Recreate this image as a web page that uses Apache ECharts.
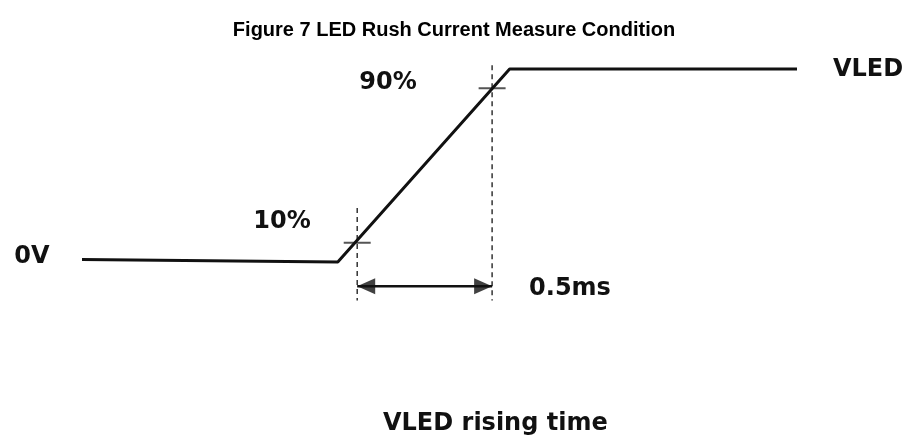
<!DOCTYPE html>
<html><head><meta charset="utf-8">
<script src="https://cdn.jsdelivr.net/npm/echarts@6/dist/echarts.min.js"></script>
<style>html,body{margin:0;padding:0;background:#fff}#c{width:909px;height:442px}</style>
</head><body><div id="c"></div>
<script>
// time in ms (t=0 at 10% point), level as fraction of VLED
const waveTime  = [-1.02, -0.072, 0.565, 1.63];
const waveLevel = [0.013, 0, 1, 1];
const markTimes = [0, 0.5];          // 10% and 90% crossing times
const markLevels = [0.1, 0.9];
const dashTop = [0.28, 1.02];
const dashBottom = -0.2;
const arrowLevel = -0.125;
const tickHalf = 0.05;
const labels = { title: 'Figure 7 LED Rush Current Measure Condition', p90: '90%', p10: '10%', zero: '0V', vled: 'VLED', dt: '0.5ms', caption: 'VLED rising time' };

const chart = echarts.init(document.getElementById('c'));
const series = [];
series.push({ type: 'line', data: waveTime.map((t, i) => [t, waveLevel[i]]), symbol: 'none',
  lineStyle: { color: '#111', width: 3 }, z: 5, animation: false });
markTimes.forEach((t, i) => {
  series.push({ type: 'line', data: [[t, dashTop[i]], [t, dashBottom]], symbol: 'none',
    lineStyle: { color: '#333', width: 1.5, type: [5, 4] }, z: 2, animation: false });
  series.push({ type: 'line', data: [[t - tickHalf, markLevels[i]], [t + tickHalf, markLevels[i]]], symbol: 'none',
    lineStyle: { color: '#555', width: 2 }, z: 3, animation: false });
});
series.push({ type: 'line', data: markTimes.map(t => [t, arrowLevel]), symbol: 'none',
  lineStyle: { color: '#111', width: 2.5 }, z: 4, animation: false });
series.push({ type: 'scatter', data: [
    { value: [markTimes[0], arrowLevel], symbolRotate: 90, symbolOffset: [9, 0] },
    { value: [markTimes[1], arrowLevel], symbolRotate: -90, symbolOffset: [-9, 0] }
  ], symbol: 'triangle', symbolSize: [16, 18], itemStyle: { color: '#111' }, z: 6, animation: false });

const lblFont = { fontFamily: 'DejaVu Sans', fontWeight: 'bold', fontSize: 24, fill: '#111' };
function txt(text, x, y, align) {
  return { type: 'text', x, y, style: Object.assign({}, lblFont, { text, textAlign: align || 'center', textVerticalAlign: 'middle' }) };
}
chart.setOption({
  animation: false,
  grid: { left: 82, right: 112, top: 30.4, height: 347.4 },
  xAxis: { type: 'value', min: -1.02, max: 1.63, show: false },
  yAxis: { type: 'value', min: -0.6, max: 1.2, show: false },
  series,
  graphic: [
    { type: 'text', x: 454, y: 30, style: { text: labels.title, fontFamily: 'Liberation Sans, Arial', fontWeight: 'bold', fontSize: 20, fill: '#000', textAlign: 'center', textVerticalAlign: 'middle' } },
    txt(labels.p90, 388, 83),
    txt(labels.p10, 282, 222),
    txt(labels.zero, 32, 257),
    txt(labels.vled, 868, 70),
    txt(labels.dt, 570, 289),
    txt(labels.caption, 383, 424, 'left')
  ]
});
</script></body></html>
